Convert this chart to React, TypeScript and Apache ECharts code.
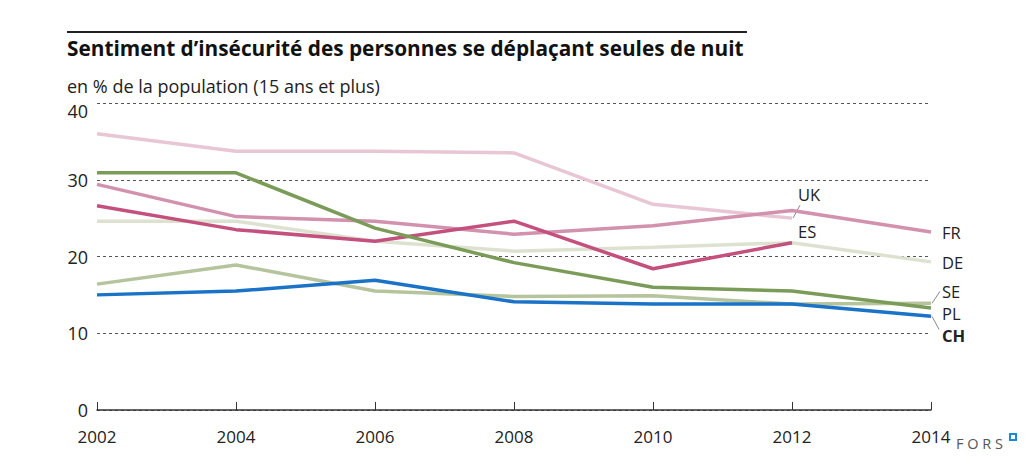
import React, { useEffect, useRef } from "react";
import * as echarts from "echarts";

const years = ["2002", "2004", "2006", "2008", "2010", "2012", "2014"];
const yTicks = [0, 10, 20, 30, 40];

const UK = [36.0, 33.7, 33.7, 33.5, 26.8, 25.0, null];
const FR = [29.4, 25.2, 24.6, 22.9, 24.0, 26.0, 23.2];
const ES = [26.6, 23.5, 22.0, 24.6, 18.4, 21.8, null];
const DE = [24.6, 24.6, 22.0, 20.7, 21.2, 21.8, 19.3];
const PL = [30.9, 30.9, 23.7, 19.2, 16.0, 15.5, 13.3];
const SE = [16.4, 18.9, 15.5, 14.8, 14.9, 13.8, 13.9];
const CH = [15.0, 15.5, 16.9, 14.1, 13.8, 13.8, 12.2];

const seriesDefs = [
  { name: "UK", data: UK, color: "#e8c6d3", end: 5, dx: 6, dy: -24, lead: [8, -13], bold: false },
  { name: "DE", data: DE, color: "#dde2d0", end: 6, dx: 11, dy: 1, lead: null, bold: false },
  { name: "FR", data: FR, color: "#d291ad", end: 6, dx: 11, dy: 1, lead: null, bold: false },
  { name: "ES", data: ES, color: "#c4507e", end: 5, dx: 6, dy: -11, lead: null, bold: false },
  { name: "SE", data: SE, color: "#b5c49c", end: 6, dx: 11, dy: -12, lead: [9, -12], bold: false },
  { name: "PL", data: PL, color: "#7b9c58", end: 6, dx: 11, dy: 6, lead: null, bold: false },
  { name: "CH", data: CH, color: "#1a73c6", end: 6, dx: 11, dy: 19, lead: [8, 13], bold: true },
];

const FONT = "'Open Sans', 'Noto Sans', sans-serif";

export default function App() {
  const ref = useRef<HTMLDivElement>(null);
  useEffect(() => {
    if (!ref.current) return;
    const chart = echarts.init(ref.current, null, { renderer: "svg" });
    const option: any = {
      animation: false,
      backgroundColor: "#ffffff",
      textStyle: { fontFamily: FONT },
      grid: { left: 97, right: 104, top: 103, bottom: 63, containLabel: false },
      xAxis: {
        type: "category",
        data: years,
        boundaryGap: false,
        axisLine: { lineStyle: { color: "#333", width: 1.5 } },
        axisTick: { show: true, inside: true, length: 8, alignWithLabel: true, lineStyle: { color: "#333", width: 1 } },
        axisLabel: { color: "#222", fontSize: 17, margin: 18, fontFamily: FONT },
        splitLine: { show: false },
      },
      yAxis: {
        type: "value",
        min: 0,
        max: 40,
        interval: 10,
        axisLine: { show: false },
        axisTick: { show: false },
        axisLabel: {
          color: "#222",
          fontSize: 18,
          margin: 9,
          fontFamily: FONT,
          formatter: (v: number) => (!yTicks.includes(v) ? "" : v === 40 ? "{low|40}" : String(v)),
          rich: { low: { fontSize: 18, fontFamily: FONT, color: "#222", padding: [16, 0, 0, 0] } },
        },
        splitLine: { show: true, lineStyle: { color: "#555", width: 1, type: [3, 3] } },
      },
      series: seriesDefs.map((s) => ({
        name: s.name,
        type: "line",
        data: s.data,
        symbol: "none",
        lineStyle: { color: s.color, width: 3.5 },
        connectNulls: false,
        z: s.name === "CH" ? 5 : 3,
      })),
      graphic: [],
    };
    chart.setOption(option);

    const graphics: any[] = [
      { type: "line", shape: { x1: 67, y1: 32, x2: 747, y2: 32 }, style: { stroke: "#222", lineWidth: 2 } },
      {
        type: "text",
        x: 67,
        y: 48,
        style: { text: "Sentiment d\u2019insécurité des personnes se déplaçant seules de nuit", fontFamily: FONT, fontWeight: "bold", fontSize: 20.8, fill: "#111", textVerticalAlign: "middle" },
      },
      {
        type: "text",
        x: 67,
        y: 86,
        style: { text: "en % de la population (15 ans et plus)", fontFamily: FONT, fontSize: 18, fill: "#222", textVerticalAlign: "middle" },
      },
      {
        type: "text",
        x: 956,
        y: 443,
        style: { text: "F O R S", fontFamily: FONT, fontSize: 14.5, fill: "#555", textVerticalAlign: "middle" },
      },
      { type: "rect", shape: { x: 1010, y: 434, width: 6, height: 6 }, style: { fill: "#fff", stroke: "#1a8ad8", lineWidth: 2 } },
    ];

    seriesDefs.forEach((s) => {
      const val = s.data[s.end] as number;
      const p = chart.convertToPixel({ gridIndex: 0 }, [s.end, val]) as number[];
      graphics.push({
        type: "text",
        x: p[0] + s.dx,
        y: p[1] + s.dy,
        style: {
          text: s.name,
          fontFamily: FONT,
          fontSize: 16.5,
          lineHeight: 16,
          fontWeight: s.bold ? "bold" : "normal",
          fill: "#222",
          textVerticalAlign: "middle",
        },
      });
      if (s.lead) {
        graphics.push({
          type: "line",
          shape: { x1: p[0] + 1, y1: p[1], x2: p[0] + s.lead[0], y2: p[1] + s.lead[1] },
          style: { stroke: "#888", lineWidth: 1 },
        });
      }
    });

    chart.setOption({ graphic: graphics });
    return () => chart.dispose();
  }, []);
  return <div ref={ref} style={{ width: 1035, height: 473, position: "absolute", left: 0, top: 0 }} />;
}
